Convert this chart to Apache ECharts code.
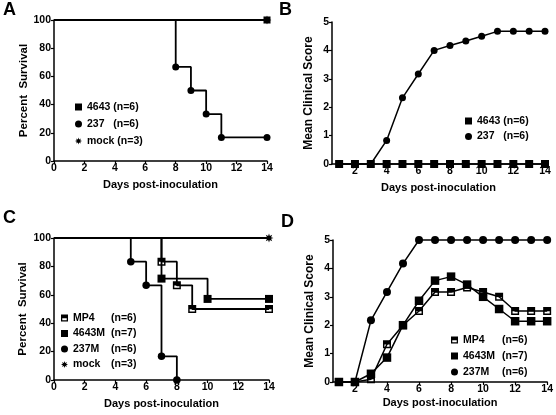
<!DOCTYPE html>
<html>
<head>
<meta charset="utf-8">
<script src="https://cdn.jsdelivr.net/npm/echarts@6/dist/echarts.min.js"></script>
<style>html,body{margin:0;padding:0;background:#fff}#c{width:556px;height:415px}</style>
</head>
<body>
<div id="c"></div>
<script>
// ---------- DATA ----------
// Panel A: Kaplan-Meier survival
const A_4643_days = [0, 14];
const A_4643_surv = [100, 100];
const A_237_days = [0, 8, 9, 10, 11, 14];
const A_237_surv = [100, 66.7, 50, 33.3, 16.7, 16.7];
const A_mock_days = [0, 14];
const A_mock_surv = [100, 100];

// Panel B: mean clinical score
const B_days = [1,2,3,4,5,6,7,8,9,10,11,12,13,14];
const B_4643 = [0,0,0,0,0,0,0,0,0,0,0,0,0,0];
const B_237  = [0,0,0,0.83,2.33,3.17,4.0,4.17,4.33,4.5,4.67,4.67,4.67,4.67];

// Panel C: survival
const C_MP4_days = [0, 7, 8, 9, 14];
const C_MP4_surv = [100, 83.3, 66.7, 50, 50];
const C_4643M_days = [0, 7, 10, 14];
const C_4643M_surv = [100, 71.4, 57.1, 57.1];
const C_237M_days = [0, 5, 6, 7, 8];
const C_237M_surv = [100, 83.3, 66.7, 16.7, 0];
const C_mock_days = [0, 14];
const C_mock_surv = [100, 100];

// Panel D: mean clinical score
const D_days = [1,2,3,4,5,6,7,8,9,10,11,12,13,14];
const D_MP4   = [0,0,0.1,1.33,2.0,2.5,3.17,3.17,3.33,3.17,3.0,2.5,2.5,2.5];
const D_4643M = [0,0,0.29,0.86,2.0,2.86,3.57,3.71,3.43,3.0,2.57,2.14,2.14,2.14];
const D_237M  = [0,0,2.17,3.17,4.17,5,5,5,5,5,5,5,5,5];

// Tick labels and texts
const survXTicks = [0,2,4,6,8,10,12,14];
const scoreXTicks = [2,4,6,8,10,12,14];
const labelsAB = {'4643':'4643 (n=6)', '237':'237   (n=6)', 'mock':'mock (n=3)'};
const groupN = {'MP4':'(n=6)','4643M':'(n=7)','237M':'(n=6)','mock':'(n=3)'};
const panelLetters = ['A','B','C','D'];
const xTitle = 'Days post-inoculation';
const survTitle = 'Percent  Survival';
const scoreTitle = 'Mean Clinical Score';

// ---------- STYLE ----------
const FONT = "'Liberation Sans', Arial, sans-serif";
const FS = 10.5;
function starPath(){
  const n = 8, ro = 10, ri = 5; let d = '';
  for (let i = 0; i < 2*n; i++) {
    const r = i % 2 ? ri : ro; const a = Math.PI * i / n - Math.PI/2;
    d += (i ? 'L' : 'M') + (10 + r*Math.cos(a)).toFixed(2) + ',' + (10 + r*Math.sin(a)).toFixed(2);
  }
  return 'path://' + d + 'Z';
}
const STAR = starPath();
const HALF_SQ = 'path://M0,0L10,0L10,10L0,10Z M1.8,5.2L1.8,8.2L8.2,8.2L8.2,5.2Z';

const sym = {
  '4643': {symbol:'rect', size:7},
  '237': {symbol:'circle', size:7},
  'mock': {symbol:STAR, size:9},
  'MP4': {symbol:HALF_SQ, size:8},
  '4643M': {symbol:'rect', size:8},
  '237M': {symbol:'circle', size:7.5}
};

function km(name, days, surv, xi){
  return {
    name, type:'line', step:'end', xAxisIndex:xi, yAxisIndex:xi, clip:false,
    symbol: sym[name].symbol, symbolSize: sym[name].size, showAllSymbol:true,
    data: days.map((d,i)=> i===0 ? {value:[d, surv[i]], symbol:'none'} : [d, surv[i]]),
    lineStyle:{color:'#000', width:1.8}, itemStyle:{color:'#000', opacity:1},
    emphasis:{disabled:true}, animation:false
  };
}
function score(name, days, vals, xi, size){
  return {
    name, type:'line', xAxisIndex:xi, yAxisIndex:xi, clip:false,
    symbol: sym[name].symbol, symbolSize: size || sym[name].size, showAllSymbol:true,
    data: days.map((d,i)=>[d, vals[i]]),
    lineStyle:{color:'#000', width:1.5}, itemStyle:{color:'#000', opacity:1},
    emphasis:{disabled:true}, animation:false
  };
}
function xAx(gi, min, ticks, gap){
  return {
    type:'value', gridIndex:gi, min:min, max:14,
    name:xTitle, nameLocation:'middle', nameGap:gap,
    nameTextStyle:{fontFamily:FONT, fontWeight:'bold', fontSize:11, color:'#000'},
    axisLine:{show:true, lineStyle:{color:'#000', width:1.5}},
    axisTick:{show:true, length:3, inside:false, customValues:ticks, lineStyle:{color:'#000', width:1.2}},
    axisLabel:{show:true, customValues:ticks, margin:2, fontFamily:FONT, fontWeight:'bold', fontSize:FS, color:'#000'},
    splitLine:{show:false}
  };
}
function yAx(gi, max, interval, title, gap, tfs){
  return {
    type:'value', gridIndex:gi, min:0, max:max, interval:interval,
    name:title, nameLocation:'middle', nameRotate:90, nameGap:gap,
    nameTextStyle:{fontFamily:FONT, fontWeight:'bold', fontSize:tfs, color:'#000'},
    axisLine:{show:true, lineStyle:{color:'#000', width:1.5}},
    axisTick:{show:true, length:3, inside:false, lineStyle:{color:'#000', width:1.2}},
    axisLabel:{show:true, margin:3, fontFamily:FONT, fontWeight:'bold', fontSize:FS, color:'#000'},
    splitLine:{show:false}
  };
}
const txt = {fontFamily:FONT, fontWeight:'bold', fontSize:FS, color:'#000', lineHeight:12};
function legendAB(names, left, top, gap){
  return {
    orient:'vertical', left, top, itemGap:gap, itemWidth:7, itemHeight:7,
    selectedMode:false, padding:0,
    data: names.map(n=>({name:n, icon:sym[n].symbol})),
    itemStyle:{color:'#000'},
    formatter: n => labelsAB[n],
    textStyle: txt
  };
}
function legendCD(names, left, top, gap, colW){
  return {
    orient:'vertical', left, top, itemGap:gap, itemWidth:7, itemHeight:7,
    selectedMode:false, padding:0,
    data: names.map(n=>({name:n, icon:sym[n].symbol})),
    itemStyle:{color:'#000'},
    formatter: n => '{n|' + n + '}{c|' + groupN[n] + '}',
    textStyle: Object.assign({}, txt, {rich:{n:Object.assign({}, txt, {width:colW}), c:Object.assign({}, txt)}})
  };
}

const chart = echarts.init(document.getElementById('c'), null, {renderer:'canvas'});
chart.setOption({
  backgroundColor:'#fff',
  animation:false,
  graphic:[
    {type:'text', left:3, top:1, style:{text:panelLetters[0], font:'bold 18px ' + FONT, fill:'#000'}},
    {type:'text', left:279, top:1, style:{text:panelLetters[1], font:'bold 18px ' + FONT, fill:'#000'}},
    {type:'text', left:3, top:209, style:{text:panelLetters[2], font:'bold 18px ' + FONT, fill:'#000'}},
    {type:'text', left:281, top:213, style:{text:panelLetters[3], font:'bold 18px ' + FONT, fill:'#000'}}
  ],
  grid:[
    {left:54, right:289, top:20, bottom:254},
    {left:332, right:11, top:22, bottom:251},
    {left:54, right:287, top:238, bottom:35},
    {left:333, right:8, top:240, bottom:33}
  ],
  xAxis:[
    xAx(0, 0, survXTicks, 18),
    xAx(1, 0.55, scoreXTicks, 18),
    xAx(2, 0, survXTicks, 18),
    xAx(3, 0.63, scoreXTicks, 15)
  ],
  yAxis:[
    yAx(0, 100, 20, survTitle, 24, 11.5),
    yAx(1, 5, 1, scoreTitle, 17.5, 12),
    yAx(2, 100, 20, survTitle, 25, 11.5),
    yAx(3, 5, 1, scoreTitle, 17, 12)
  ],
  legend:[
    legendAB(['4643','237','mock'], 75, 101, 5),
    legendAB(['4643','237'], 465, 115, 3.5),
    legendCD(['MP4','4643M','237M','mock'], 61, 312, 3.5, 38),
    legendCD(['MP4','4643M','237M'], 451, 334, 4, 39)
  ],
  series:[
    km('mock', A_mock_days, A_mock_surv, 0),
    km('237', A_237_days, A_237_surv, 0),
    km('4643', A_4643_days, A_4643_surv, 0),

    score('237', B_days, B_237, 1, 7),
    score('4643', B_days, B_4643, 1, 8),

    km('mock', C_mock_days, C_mock_surv, 2),
    km('237M', C_237M_days, C_237M_surv, 2),
    km('MP4', C_MP4_days, C_MP4_surv, 2),
    km('4643M', C_4643M_days, C_4643M_surv, 2),

    score('237M', D_days, D_237M, 3, 8),
    score('MP4', D_days, D_MP4, 3, 8),
    score('4643M', D_days, D_4643M, 3, 8.5)
  ]
});
</script>
</body>
</html>
